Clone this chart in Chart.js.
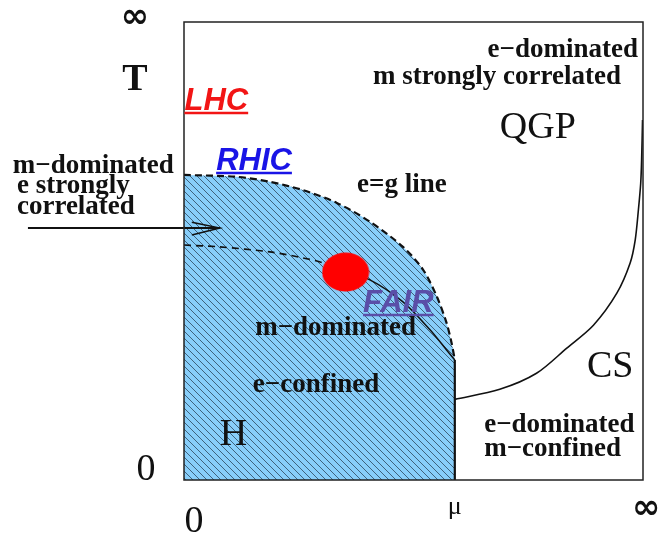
<!DOCTYPE html>
<html>
<head>
<meta charset="utf-8">
<script src="https://cdn.jsdelivr.net/npm/chart.js@4/dist/chart.umd.min.js"></script>
<style>
html,body{margin:0;padding:0;background:#fff;}
#wrap{width:661px;height:535px;position:relative;}
</style>
</head>
<body>
<div id="wrap"><canvas id="c" width="661" height="535"></canvas></div>
<script>
// ---- data (axis units: mu 0..100, T 0..100) ----
const hadronBoundaryX = [0, 11.5, 18.7, 25.9, 33.3, 40.5, 47.7, 52.1, 55.1, 57.2, 58.3, 59.0];
const hadronBoundaryY = [66.6, 66.2, 65.1, 63.3, 60.5, 56.4, 50.9, 45.9, 40.0, 34.3, 29.9, 26.2];
const crossoverX = [0, 7.8, 18.7, 25.9, 30.3, 35.2];
const crossoverY = [51.3, 50.9, 49.8, 48.5, 47.4, 45.4];
const firstOrderX = [35.2, 40.5, 47.7, 53.6, 57.2, 59.0];
const firstOrderY = [45.4, 43.7, 38.9, 32.8, 28.4, 26.2];
const muLineX = [59.0, 59.0];
const muLineY = [26.2, 0];
const csBoundaryX = [59.0, 68.8, 76.8, 83.4, 89.2, 94.3, 97.2, 98.3, 99.0, 99.5, 99.7, 99.9];
const csBoundaryY = [17.6, 19.8, 23.3, 28.8, 33.8, 40.8, 47.4, 52.4, 59.0, 64.8, 69.9, 78.6];
const criticalPointX = [35.2];
const criticalPointY = [45.4];
const arrowX = [-34, 7.8];
const arrowY = [55, 55];
const arrowHeadX = [1.7, 7.8, 1.7];
const arrowHeadY = [56.3, 55.0, 53.5];
const axisTickLabels = ['0', 'μ', '∞'];
const axisTitleT = 'T';

function pts(xs, ys){ return xs.map((x,i)=>({x:x, y:ys[i]})); }

// hatch pattern
function hatch(){
  const s = 7;
  const c = document.createElement('canvas'); c.width = s; c.height = s;
  const g = c.getContext('2d');
  g.fillStyle = '#88cefa'; g.fillRect(0,0,s,s);
  g.strokeStyle = 'rgba(20,35,50,0.75)'; g.lineWidth = 0.85;
  g.beginPath();
  g.moveTo(-1,-1); g.lineTo(s+1,s+1);
  g.moveTo(-1,s-1); g.lineTo(1,s+1);
  g.moveTo(s-1,-1); g.lineTo(s+1,1);
  g.stroke();
  return g.createPattern(c,'repeat');
}
function dotImg(){
  const c = document.createElement('canvas'); c.width = 48; c.height = 40;
  const g = c.getContext('2d');
  g.fillStyle = '#ff0000';
  g.beginPath(); g.ellipse(24,20,23.5,19.5,0,0,Math.PI*2); g.fill();
  return c;
}

const SERIF = "'Liberation Serif','Times New Roman',serif";
const SANS = "'Liberation Sans',Arial,sans-serif";
const INF = "bold 34px 'DejaVu Sans',sans-serif";
const B27 = "bold 27px " + SERIF;
const labels = [
  {t:axisTickLabels[2], x:-10.7, y:100.9, f:INF, a:'center', b:'middle'},
  {t:axisTitleT, x:-10.7, y:85.2, f:"bold 38px "+SERIF, a:'center'},
  {t:'LHC', x:0.1, y:80.8, f:"italic bold 31px "+SANS, c:'#f21515', u:true},
  {t:'RHIC', x:7.0, y:67.7, f:"italic bold 31px "+SANS, c:'#1a14e6', u:true},
  {t:'FAIR', x:39.0, y:36.7, f:"italic bold 31px "+SANS, c:'#5a4ea8', u:true},
  {t:'m−dominated', x:-37.3, y:67.0, f:B27},
  {t:'e strongly', x:-36.4, y:62.7, f:B27},
  {t:'correlated', x:-36.4, y:58.1, f:B27},
  {t:'e−dominated', x:98.9, y:92.4, f:B27, a:'right'},
  {t:'m strongly correlated', x:41.2, y:86.5, f:B27},
  {t:'QGP', x:68.8, y:74.7, f:"38px "+SERIF},
  {t:'e=g line', x:37.7, y:62.9, f:B27},
  {t:'CS', x:87.8, y:22.5, f:"38px "+SERIF},
  {t:'e−dominated', x:65.4, y:10.5, f:B27},
  {t:'m−confined', x:65.4, y:5.2, f:B27},
  {t:'m−dominated', x:15.5, y:31.7, f:B27},
  {t:'e−confined', x:15.0, y:19.2, f:B27},
  {t:'H', x:7.8, y:7.6, f:"38px "+SERIF},
  {t:axisTickLabels[0], x:-8.3, y:0, f:"38px "+SERIF, a:'center'},
  {t:axisTickLabels[0], x:2.2, y:-11.4, f:"38px "+SERIF, a:'center'},
  {t:axisTickLabels[1], x:59.0, y:-7.4, f:"26px "+SERIF, a:'center'},
  {t:axisTickLabels[2], x:100.7, y:-6.3, f:INF, a:'center', b:'middle'}
];

const framePlugin = {
  id:'frame',
  afterDatasetsDraw(chart){
    const {ctx, chartArea:a, scales} = chart;
    ctx.save();
    ctx.strokeStyle = '#222'; ctx.lineWidth = 1.5;
    ctx.strokeRect(a.left, a.top, a.right-a.left, a.bottom-a.top);
    for (const L of labels){
      const px = scales.x.getPixelForValue(L.x), py = scales.y.getPixelForValue(L.y);
      ctx.font = L.f; ctx.fillStyle = L.c || '#111';
      ctx.textAlign = L.a || 'left'; ctx.textBaseline = L.b || 'alphabetic';
      ctx.fillText(L.t, px, py);
      if (L.u){
        const w = ctx.measureText(L.t).width;
        ctx.strokeStyle = L.c; ctx.lineWidth = 2.5;
        ctx.beginPath(); ctx.moveTo(px, py+3); ctx.lineTo(px+w, py+3); ctx.stroke();
      }
    }
    ctx.restore();
  }
};

const line = (data, o) => Object.assign({data, showLine:true, pointRadius:0, borderColor:'#111', borderWidth:1.5, fill:false, tension:0.3}, o);

new Chart(document.getElementById('c'), {
  type:'scatter',
  data:{ datasets:[
    line(pts(hadronBoundaryX.concat([59.0]), hadronBoundaryY.concat([0])), {fill:'origin', backgroundColor:hatch(), borderWidth:0, order:10}),
    line(pts(hadronBoundaryX, hadronBoundaryY), {borderDash:[7,4], borderWidth:2.2, order:5}),
    line(pts(crossoverX, crossoverY), {borderDash:[7,5], borderWidth:1.6, order:5}),
    line(pts(firstOrderX, firstOrderY), {borderWidth:1.5, order:5}),
    line(pts(muLineX, muLineY), {borderWidth:2.2, tension:0, order:5}),
    line(pts(csBoundaryX, csBoundaryY), {borderWidth:1.6, order:5}),
    line(pts(arrowX, arrowY), {borderWidth:2, tension:0, clip:false, order:4}),
    line(pts(arrowHeadX, arrowHeadY), {borderWidth:1.5, tension:0, clip:false, order:4}),
    {data:pts(criticalPointX, criticalPointY), pointStyle:dotImg(), pointRadius:20, order:1}
  ]},
  options:{
    responsive:false, devicePixelRatio:1, animation:false,
    layout:{autoPadding:false, padding:{left:184, right:18, top:22, bottom:55}},
    scales:{
      x:{type:'linear', min:0, max:100, display:false},
      y:{type:'linear', min:0, max:100, display:false}
    },
    plugins:{legend:{display:false}, tooltip:{enabled:false}}
  },
  plugins:[framePlugin]
});
</script>
</body>
</html>
